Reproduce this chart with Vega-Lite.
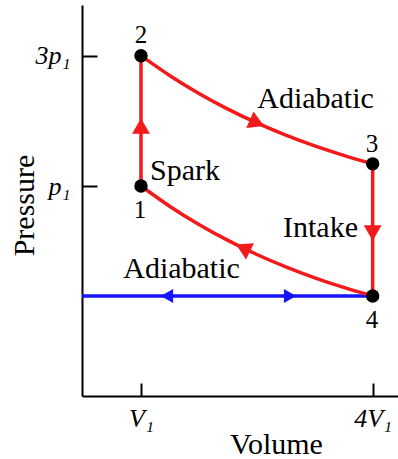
{
  "$schema": "https://vega.github.io/schema/vega-lite/v6.json",
  "width": 316,
  "height": 391,
  "autosize": "none",
  "padding": {"left": 82, "top": 5, "right": 0, "bottom": 63},
  "background": "white",
  "config": {"view": {"stroke": null}, "font": "'Liberation Serif', 'DejaVu Serif', serif"},
  "datasets": {
    "cycle": [
      {"seg": "a", "ord": 0, "x": 1, "y": 1},
      {"seg": "a", "ord": 1, "x": 1, "y": 3},
      {"seg": "b", "ord": 0, "x": 1, "y": 3},
      {"seg": "b", "ord": 1, "x": 1.375, "y": 2.692},
      {"seg": "b", "ord": 2, "x": 1.75, "y": 2.42},
      {"seg": "b", "ord": 3, "x": 2.125, "y": 2.18},
      {"seg": "b", "ord": 4, "x": 2.5, "y": 1.968},
      {"seg": "b", "ord": 5, "x": 2.875, "y": 1.781},
      {"seg": "b", "ord": 6, "x": 3.25, "y": 1.616},
      {"seg": "b", "ord": 7, "x": 3.625, "y": 1.471},
      {"seg": "b", "ord": 8, "x": 4, "y": 1.34},
      {"seg": "c", "ord": 0, "x": 4, "y": 1.34},
      {"seg": "c", "ord": 1, "x": 4, "y": -0.688},
      {"seg": "d", "ord": 0, "x": 1, "y": 1},
      {"seg": "d", "ord": 1, "x": 1.375, "y": 0.686},
      {"seg": "d", "ord": 2, "x": 1.75, "y": 0.409},
      {"seg": "d", "ord": 3, "x": 2.125, "y": 0.165},
      {"seg": "d", "ord": 4, "x": 2.5, "y": -0.051},
      {"seg": "d", "ord": 5, "x": 2.875, "y": -0.241},
      {"seg": "d", "ord": 6, "x": 3.25, "y": -0.409},
      {"seg": "d", "ord": 7, "x": 3.625, "y": -0.557},
      {"seg": "d", "ord": 8, "x": 4, "y": -0.688}
    ],
    "intake": [
      {"ord": 0, "x": 0.236, "y": -0.688},
      {"ord": 1, "x": 4, "y": -0.688}
    ],
    "states": [
      {"state": "1", "x": 1, "y": 1},
      {"state": "2", "x": 1, "y": 3},
      {"state": "3", "x": 4, "y": 1.34},
      {"state": "4", "x": 4, "y": -0.688}
    ],
    "numbers": [
      {"label": "1", "x": 0.987, "y": 0.509},
      {"label": "2", "x": 1, "y": 3.195},
      {"label": "3", "x": 3.991, "y": 1.522},
      {"label": "4", "x": 3.991, "y": -1.18}
    ],
    "words": [
      {"label": "Adiabatic", "x": 3.26, "y": 2.197},
      {"label": "Adiabatic", "x": 1.525, "y": -0.412}
    ]
  },
  "encoding": {
    "x": {
      "field": "x",
      "type": "quantitative",
      "scale": {"domain": [0.236, 4.328], "nice": false, "zero": false},
      "axis": {
        "values": [1, 4],
        "labelExpr": "datum.value == 1 ? 'V₁' : '4V₁'",
        "grid": false,
        "domainColor": "black",
        "domainWidth": 2,
        "tickColor": "black",
        "tickWidth": 2,
        "tickSize": -13,
        "labelPadding": 22,
        "labelFont": "'Liberation Serif', 'DejaVu Serif', serif",
        "labelFontStyle": "italic",
        "labelFontSize": 26,
        "labelColor": "black",
        "labelFlush": false,
        "labelOverlap": false,
        "title": "Volume",
        "titleFont": "'Liberation Serif', 'DejaVu Serif', serif",
        "titleFontSize": 30,
        "titleFontWeight": "normal",
        "titleColor": "black",
        "titleX": 194,
        "titleY": 57,
        "titleAlign": "center",
        "titleBaseline": "alphabetic"
      }
    },
    "y": {
      "field": "y",
      "type": "quantitative",
      "scale": {"domain": [-2.223, 3.778], "nice": false, "zero": false},
      "axis": {
        "values": [1, 3],
        "labelExpr": "datum.value == 1 ? 'p₁' : '3p₁'",
        "grid": false,
        "domainColor": "black",
        "domainWidth": 2,
        "tickColor": "black",
        "tickWidth": 2,
        "tickSize": -15,
        "labelPadding": 27,
        "labelFont": "'Liberation Serif', 'DejaVu Serif', serif",
        "labelFontStyle": "italic",
        "labelFontSize": 26,
        "labelColor": "black",
        "labelFlush": false,
        "labelOverlap": false,
        "title": "Pressure",
        "titleFont": "'Liberation Serif', 'DejaVu Serif', serif",
        "titleFontSize": 30,
        "titleFontWeight": "normal",
        "titleColor": "black",
        "titleAngle": -90,
        "titleX": -49,
        "titleY": 200,
        "titleAlign": "center",
        "titleBaseline": "alphabetic"
      }
    }
  },
  "layer": [
    {
      "data": {"name": "intake"},
      "mark": {"type": "line", "color": "#1414ff", "strokeWidth": 3.5},
      "encoding": {"order": {"field": "ord"}}
    },
    {
      "data": {"name": "cycle"},
      "mark": {"type": "line", "color": "#f21a1a", "strokeWidth": 3.5, "interpolate": "monotone"},
      "encoding": {"detail": {"field": "seg"}, "order": {"field": "ord"}}
    },
    {
      "data": {"values": [{"x": 1, "y": 1.921}]},
      "mark": {"type": "point", "shape": "triangle-up", "filled": true, "color": "#f21a1a", "opacity": 1, "size": 320}
    },
    {
      "data": {"values": [{"x": 4, "y": 0.278}]},
      "mark": {"type": "point", "shape": "triangle-down", "filled": true, "color": "#f21a1a", "opacity": 1, "size": 320}
    },
    {
      "data": {"values": [{"x": 2.502, "y": 1.968}]},
      "mark": {"type": "point", "shape": "triangle-right", "angle": 24, "filled": true, "color": "#f21a1a", "opacity": 1, "size": 320}
    },
    {
      "data": {"values": [{"x": 2.321, "y": 0.049}]},
      "mark": {"type": "point", "shape": "triangle-left", "angle": 26, "filled": true, "color": "#f21a1a", "opacity": 1, "size": 320}
    },
    {
      "data": {"values": [{"x": 1.337, "y": -0.688}]},
      "mark": {"type": "point", "shape": "triangle-left", "filled": true, "color": "#1414ff", "opacity": 1, "size": 200}
    },
    {
      "data": {"values": [{"x": 2.93, "y": -0.688}]},
      "mark": {"type": "point", "shape": "triangle-right", "filled": true, "color": "#1414ff", "opacity": 1, "size": 200}
    },
    {
      "data": {"name": "states"},
      "mark": {"type": "point", "shape": "circle", "filled": true, "color": "black", "opacity": 1, "size": 180}
    },
    {
      "data": {"name": "numbers"},
      "mark": {"type": "text", "font": "'Liberation Serif', 'DejaVu Serif', serif", "fontSize": 25, "color": "black", "align": "center", "baseline": "alphabetic"},
      "encoding": {"text": {"field": "label"}}
    },
    {
      "data": {"name": "words"},
      "mark": {"type": "text", "font": "'Liberation Serif', 'DejaVu Serif', serif", "fontSize": 30, "color": "black", "align": "center", "baseline": "alphabetic"},
      "encoding": {"text": {"field": "label"}}
    },
    {
      "data": {"values": [{"label": "Spark", "x": 1.117, "y": 1.092}]},
      "mark": {"type": "text", "font": "'Liberation Serif', 'DejaVu Serif', serif", "fontSize": 30, "color": "black", "align": "left", "baseline": "alphabetic"},
      "encoding": {"text": {"field": "label"}}
    },
    {
      "data": {"values": [{"label": "Intake", "x": 3.81, "y": 0.217}]},
      "mark": {"type": "text", "font": "'Liberation Serif', 'DejaVu Serif', serif", "fontSize": 30, "color": "black", "align": "right", "baseline": "alphabetic"},
      "encoding": {"text": {"field": "label"}}
    }
  ]
}
